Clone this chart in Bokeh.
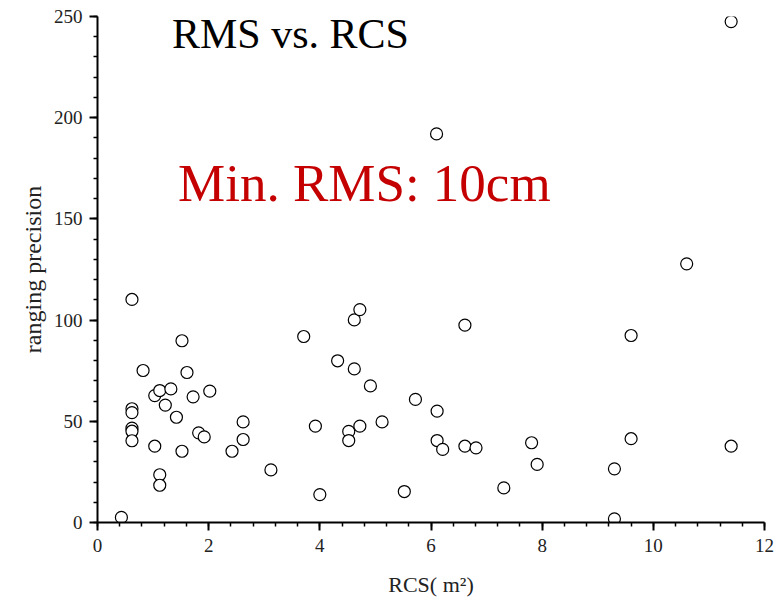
from bokeh.plotting import figure
from bokeh.models import Range1d, SingleIntervalTicker, Label, ColumnDataSource
from bokeh.embed import file_html
from bokeh.resources import INLINE

# Data
rcs = [0.43, 0.62, 0.62, 0.62, 0.62, 0.62, 0.62, 0.82, 1.03, 1.03,
       1.12, 1.12, 1.12, 1.22, 1.32, 1.42, 1.52, 1.52, 1.61, 1.72,
       1.82, 1.92, 2.02, 2.42, 2.62, 2.62, 3.12, 3.71, 3.92, 4.0,
       4.32, 4.52, 4.52, 4.62, 4.62, 4.72, 4.72, 4.91, 5.12, 5.52,
       5.72, 6.1, 6.11, 6.11, 6.21, 6.61, 6.61, 6.81, 7.31, 7.81,
       7.91, 9.3, 9.3, 9.6, 9.6, 10.6, 11.4, 11.4]
rms = [2.5, 110.2, 56.2, 54.3, 46.6, 45.1, 40.4, 75.1, 62.7, 37.7,
       65.2, 23.6, 18.4, 58.0, 66.0, 52.0, 89.8, 35.2, 74.1, 62.1,
       44.3, 42.3, 64.9, 35.2, 49.7, 41.0, 26.0, 91.9, 47.6, 13.8,
       79.9, 45.0, 40.5, 100.1, 75.9, 105.2, 47.6, 67.5, 49.7, 15.3,
       60.8, 192.0, 55.0, 40.5, 36.1, 97.5, 37.7, 36.9, 17.1, 39.4,
       28.7, 26.5, 1.8, 92.4, 41.4, 127.8, 247.5, 37.7]

title_text = "RMS vs. RCS"
note_text = "Min. RMS: 10cm"
x_label = "RCS( m\u00b2)"
y_label = "ranging precision"

FONT = "Liberation Serif"

src = ColumnDataSource(dict(x=rcs, y=rms))

p = figure(width=784, height=599, output_backend="svg", toolbar_location=None,
           x_range=Range1d(0, 12), y_range=Range1d(0, 250),
           min_border_left=97, min_border_right=20, min_border_top=16,
           min_border_bottom=77)
p.outline_line_color = None
p.xgrid.visible = False
p.ygrid.visible = False
p.background_fill_color = "white"
p.border_fill_color = "white"

p.xaxis.ticker = SingleIntervalTicker(interval=2, num_minor_ticks=5)
p.yaxis.ticker = SingleIntervalTicker(interval=50, num_minor_ticks=5)

for ax in (p.xaxis[0], p.yaxis[0]):
    ax.axis_line_width = 2
    ax.axis_line_color = "black"
    ax.major_tick_line_width = 2
    ax.minor_tick_line_width = 1.5
    ax.major_tick_line_color = "black"
    ax.minor_tick_line_color = "black"
    ax.major_tick_in = 0
    ax.major_tick_out = 8
    ax.minor_tick_in = 0
    ax.minor_tick_out = 4
    ax.major_label_text_font = FONT
    ax.major_label_text_font_size = "19px"
    ax.major_label_text_color = "#222222"
    ax.axis_label_text_font = FONT
    ax.axis_label_text_font_style = "normal"
    ax.axis_label_text_color = "#222222"

p.xaxis.axis_label = x_label
p.xaxis.axis_label_text_font_size = "22px"
p.xaxis.major_label_standoff = 8
p.xaxis.axis_label_standoff = 17
p.yaxis.axis_label = y_label
p.yaxis.axis_label_text_font_size = "24px"
p.yaxis.major_label_standoff = 7
p.yaxis.axis_label_standoff = 5

p.scatter("x", "y", source=src, marker="circle", size=12,
          fill_color="white", line_color="black", line_width=1.2)

p.add_layout(Label(x=1.34, y=241.4, text=title_text, text_font=FONT,
                   text_font_size="42px", text_color="black",
                   text_baseline="alphabetic"))
p.add_layout(Label(x=1.45, y=167.9, text=note_text, text_font=FONT,
                   text_font_size="53px", text_color="#c40000",
                   text_baseline="alphabetic"))

open("out.html", "w").write(file_html(p, INLINE))
